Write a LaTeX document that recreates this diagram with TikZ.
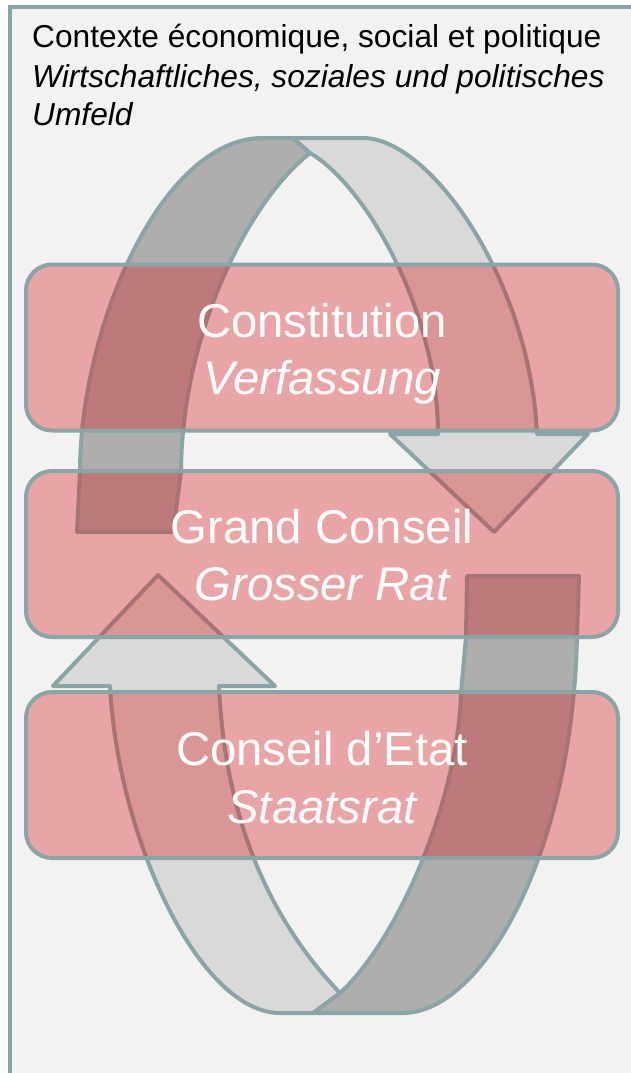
\documentclass[tikz,border=0pt]{standalone}
\usepackage{fontspec}
\setmainfont{Liberation Sans}
\definecolor{frameline}{RGB}{137,165,168}
\definecolor{panelbg}{RGB}{242,242,242}
\definecolor{ribdark}{RGB}{174,174,174}
\definecolor{riblight}{RGB}{217,217,217}
\definecolor{boxred}{RGB}{220,33,35}
\begin{document}
\begin{tikzpicture}[x=1pt,y=-1pt,
  hdr/.style={inner sep=0pt, anchor=base west, text=black, font=\fontsize{31.7}{38}\selectfont},
  pbox/.style={draw=frameline, line width=4pt, fill=boxred, fill opacity=0.37, text opacity=1,
    rounded corners=26pt, minimum width=592pt, minimum height=166pt, inner sep=0pt},
  boxt/.style={inner sep=0pt, anchor=base, text=white, font=\fontsize{47.3}{57}\selectfont},
  ribbon/.style={draw=frameline, line width=4pt, line join=round}]
\useasboundingbox (0,0) rectangle (631,1073);
\clip (0,0) rectangle (631,1073);
\fill[white] (0,0) rectangle (631,1073);
\draw[frameline, line width=4pt, fill=panelbg] (10,7.5) rectangle (680,1120);

% header
\node[hdr] (h1) at (32,48) {Contexte économique, social et politique};
\node[hdr] (h2) at (32,87) {\itshape Wirtschaftliches, soziales und politisches};
\node[hdr] (h3) at (32,125) {\itshape Umfeld};

% upper ribbon, dark part
\filldraw[ribbon, fill=ribdark]
  (77,532) -- (80,472) .. controls (80,330) and (160,138) .. (263,138) -- (293,138)
  -- (310,153) .. controls (250,200) and (182,330) .. (181,472) -- (173,532) -- cycle;
% upper ribbon, light part with arrow head
\filldraw[ribbon, fill=riblight]
  (293,138) -- (363,138) .. controls (430,138) and (530,280) .. (537,434)
  -- (588,434) -- (494,532) -- (390,434) -- (438,434)
  .. controls (438,310) and (365,185) .. (310,153) -- cycle;
% lower ribbon, dark part
\filldraw[ribbon, fill=ribdark]
  (313,1013) -- (403,1013) .. controls (480,1013) and (572,860) .. (577,637) -- (579,576)
  -- (467,576) -- (466,637) -- (461,693) .. controls (458,800) and (398,940) .. (340,993) -- cycle;
% lower ribbon, light part with arrow head
\filldraw[ribbon, fill=riblight]
  (313,1013) -- (280,1013) .. controls (200,1013) and (118,840) .. (110,686)
  -- (53,686) -- (158,575) -- (275,686) -- (219,686)
  .. controls (225,820) and (270,920) .. (340,993) -- cycle;

% boxes
\node[pbox] (b1) at (322,347.5) {};
\node[pbox] (b2) at (322,554) {};
\node[pbox] (b3) at (322,775) {};

\node[boxt] (t1a) at (322,337) {Constitution};
\node[boxt] (t1b) at (322,394) {\itshape Verfassung};
\node[boxt] (t2a) at (322,543) {Grand Conseil};
\node[boxt] (t2b) at (322,600) {\itshape Grosser Rat};
\node[boxt] (t3a) at (322,765) {Conseil d’Etat};
\node[boxt] (t3b) at (322,823) {\itshape Staatsrat};
\end{tikzpicture}
\end{document}
